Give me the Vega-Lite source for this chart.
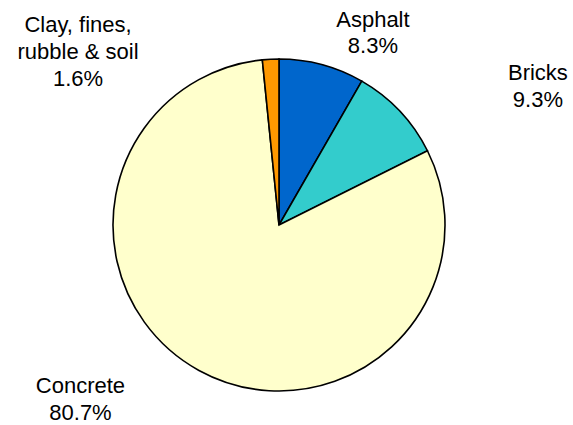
{
  "$schema": "https://vega.github.io/schema/vega-lite/v6.json",
  "width": 558,
  "height": 400,
  "autosize": "none",
  "padding": {"left": 0, "top": 25, "right": 15, "bottom": 0},
  "background": "white",
  "config": {"view": {"stroke": null}},
  "data": {
    "values": [
      {"category": "Asphalt", "share": 8.3, "rank": 1, "label": "Asphalt\n8.3%"},
      {"category": "Bricks", "share": 9.3, "rank": 2, "label": "Bricks\n9.3%"},
      {"category": "Concrete", "share": 80.7, "rank": 3, "label": "Concrete\n80.7%"},
      {"category": "Clay, fines, rubble & soil", "share": 1.6, "rank": 4, "label": "Clay, fines,\nrubble & soil\n1.6%"}
    ]
  },
  "encoding": {
    "theta": {"field": "share", "type": "quantitative", "stack": true},
    "order": {"field": "rank", "type": "quantitative"}
  },
  "layer": [
    {
      "mark": {"type": "arc", "radius": 166, "stroke": "black", "strokeWidth": 1.6},
      "encoding": {
        "color": {
          "field": "category",
          "type": "nominal",
          "scale": {
            "domain": ["Asphalt", "Bricks", "Concrete", "Clay, fines, rubble & soil"],
            "range": ["#0066CC", "#33CCCC", "#FFFFCC", "#FF9900"]
          },
          "legend": null
        }
      }
    },
    {
      "mark": {"type": "text", "radius": 190, "dx": 44.9, "dy": -14.7, "align": "center", "baseline": "alphabetic", "lineBreak": "\n", "lineHeight": 26.6, "font": "Liberation Sans", "fontSize": 22, "fill": "black"},
      "encoding": {"text": {"condition": {"test": "datum.category === 'Asphalt'", "field": "label", "type": "nominal"}, "value": ""}}
    },
    {
      "mark": {"type": "text", "radius": 190, "dx": 120.7, "dy": -14.7, "align": "center", "baseline": "alphabetic", "lineBreak": "\n", "lineHeight": 26.6, "font": "Liberation Sans", "fontSize": 22, "fill": "black"},
      "encoding": {"text": {"condition": {"test": "datum.category === 'Bricks'", "field": "label", "type": "nominal"}, "value": ""}}
    },
    {
      "mark": {"type": "text", "radius": 190, "dx": -106.9, "dy": 1.8, "align": "center", "baseline": "alphabetic", "lineBreak": "\n", "lineHeight": 26.6, "font": "Liberation Sans", "fontSize": 22, "fill": "black"},
      "encoding": {"text": {"condition": {"test": "datum.category === 'Concrete'", "field": "label", "type": "nominal"}, "value": ""}}
    },
    {
      "mark": {"type": "text", "radius": 190, "dx": -191.4, "dy": -3.2, "align": "center", "baseline": "alphabetic", "lineBreak": "\n", "lineHeight": 26.8, "font": "Liberation Sans", "fontSize": 22, "fill": "black"},
      "encoding": {"text": {"condition": {"test": "datum.category === 'Clay, fines, rubble & soil'", "field": "label", "type": "nominal"}, "value": ""}}
    }
  ]
}
